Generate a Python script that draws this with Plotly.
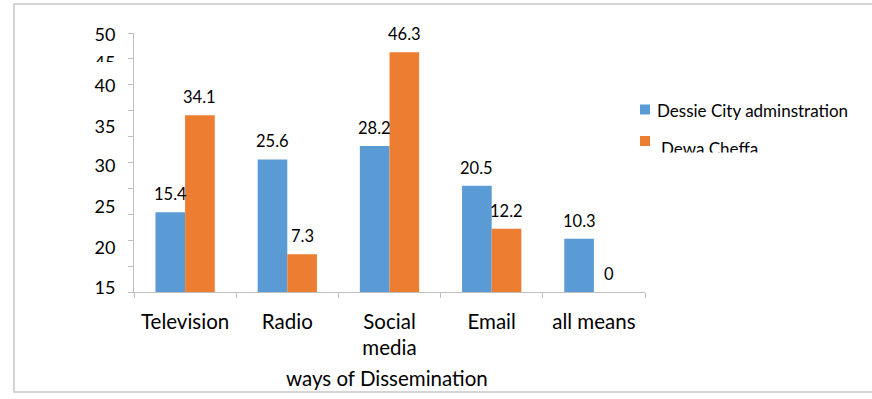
import plotly.graph_objects as go

# ---- data -------------------------------------------------------------
categories = ["Television", "Radio", "Social media", "Email", "all means"]
category_labels = ["Television", "Radio", "Social<br>media", "Email", "all means"]
series_names = ["Dessie City adminstration", "Dewa Cheffa"]
dessie = [15.4, 25.6, 28.2, 20.5, 10.3]
dewa = [34.1, 7.3, 46.3, 12.2, 0]
y_tick_text = ["50", "45", "40", "35", "30", "25", "20", "15"]
y_tick_at = [49.6, 44.2, 39.85, 31.9, 24.4, 16.5, 8.6, 0.9]
x_title = "ways of Dissemination"

# ---- geometry / style -------------------------------------------------
W, H = 872, 399
ML, MR, MT, MB = 134, 227, 33, 107
PW, PH = W - ML - MR, H - MT - MB
BLUE, ORANGE = "#5B9BD5", "#ED7D31"
AXIS = "#bfbfbf"
FONT = "Lato"


def px_x(p):
    return (p - ML) / PW


def px_y(p):
    return (H - MB - p) / PH


fig = go.Figure()
for name, vals, col in [(series_names[0], dessie, BLUE), (series_names[1], dewa, ORANGE)]:
    fig.add_trace(go.Bar(x=categories, y=vals, name=name, marker=dict(color=col, line_width=0),
                         showlegend=False))

# value labels above each bar
half = PW / len(categories) * 0.58 / 4
annotations = []
for vals, shift in [(dessie, -half), (dewa, half)]:
    for c, v in zip(categories, vals):
        annotations.append(dict(x=c, y=v, xref="x", yref="y", text=f"{v:g}", showarrow=False,
                                xshift=shift, yshift=18, yanchor="middle",
                                font=dict(family=FONT, size=16.5, color="#000")))

# legend entries
legend_rows = [(series_names[0], BLUE, 109.5, 111, 655), (series_names[1], ORANGE, 141, 148, 659)]
shapes = []
for name, col, sq_y, txt_y, txt_x in legend_rows:
    shapes.append(dict(type="rect", xref="paper", yref="paper",
                       x0=px_x(640), x1=px_x(650), y0=px_y(sq_y + 5), y1=px_y(sq_y - 5),
                       fillcolor=col, line_width=0, layer="above"))
    annotations.append(dict(x=px_x(txt_x), y=px_y(txt_y), xref="paper", yref="paper", text=name,
                            showarrow=False, xanchor="left", yanchor="middle",
                            font=dict(family=FONT, size=17, color="#000")))
# the second legend line is clipped by the box below it
annotations.append(dict(x=px_x(652), y=px_y(152), xref="paper", yref="paper", text=" ",
                        showarrow=False, xanchor="left", yanchor="top", width=130, height=14,
                        bgcolor="white", borderpad=0))

annotations.append(dict(x=px_x(387), y=px_y(378), xref="paper", yref="paper", text=x_title,
                        showarrow=False, xanchor="center", yanchor="middle",
                        font=dict(family=FONT, size=20.5, color="#000")))

# outer frame
shapes.append(dict(type="rect", xref="paper", yref="paper", x0=px_x(14), x1=px_x(890),
                   y0=px_y(392), y1=px_y(4), line=dict(color="#c8c8c8", width=1.5),
                   fillcolor="rgba(0,0,0,0)", layer="below"))
# the "45" label is partly hidden
shapes.append(dict(type="rect", xref="paper", yref="paper", x0=px_x(92), x1=px_x(126),
                   y0=px_y(78), y1=px_y(62), fillcolor="white", line_width=0, layer="above"))

fig.update_layout(
    width=W, height=H,
    margin=dict(l=ML, r=MR, t=MT, b=MB, pad=0),
    paper_bgcolor="white", plot_bgcolor="white",
    barmode="group", bargap=0.42, bargroupgap=0,
    font=dict(family=FONT, color="#000"),
    annotations=annotations, shapes=shapes,
    xaxis=dict(type="category", range=[-0.5, 4.5], tickvals=categories, ticktext=category_labels,
               showline=True, linecolor=AXIS, linewidth=1, ticks="outside", tickson="boundaries",
               ticklen=5, tickcolor=AXIS, tickwidth=1, showgrid=False, zeroline=False,
               tickfont=dict(family=FONT, size=20.5, color="#000"), ticklabelstandoff=11),
    yaxis=dict(range=[0, 50], tickvals=y_tick_at, ticktext=y_tick_text, ticks="",
               showline=True, linecolor=AXIS, linewidth=1, showgrid=False, zeroline=False,
               tickfont=dict(family=FONT, size=18, color="#000"), ticklabelstandoff=14,
               minor=dict(ticks="outside", dtick=5, tick0=0, ticklen=5, tickcolor=AXIS,
                          tickwidth=1, showgrid=False)),
)

fig.write_html("out.html")
